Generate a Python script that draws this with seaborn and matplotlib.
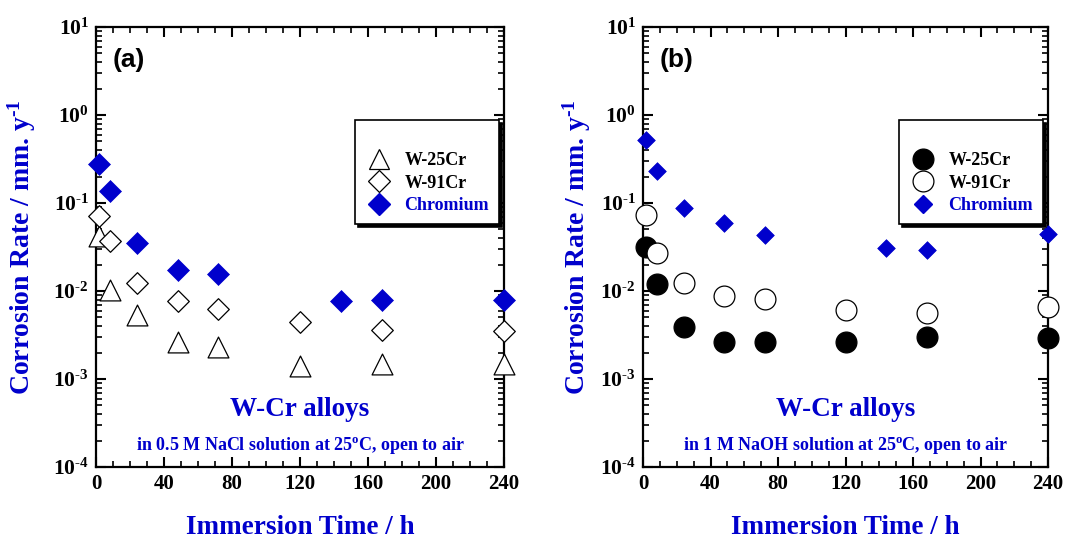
import matplotlib
matplotlib.use("Agg")
import matplotlib.pyplot as plt
from matplotlib.lines import Line2D
from matplotlib.ticker import LogLocator, FuncFormatter, MultipleLocator, NullFormatter
import seaborn as sns
import pandas as pd
import numpy as np

# ---- data ----
times_a_cr = [2, 8, 24, 48, 72, 144, 168, 240]
chromium_a = [0.275, 0.137, 0.0348, 0.0173, 0.0155, 0.0077, 0.0080, 0.0080]
times_a_alloy = [2, 8, 24, 48, 72, 120, 168, 240]
w91cr_a = [0.072, 0.0373, 0.0124, 0.0077, 0.0062, 0.0044, 0.0036, 0.0035]
w25cr_a = [0.042, 0.0102, 0.0053, 0.0026, 0.0023, 0.0014, 0.0015, 0.0015]

times_b_cr = [2, 8, 24, 48, 72, 144, 168, 240]
chromium_b = [0.52, 0.23, 0.087, 0.059, 0.043, 0.031, 0.029, 0.045]
times_b_alloy = [2, 8, 24, 48, 72, 120, 168, 240]
w91cr_b = [0.073, 0.027, 0.0123, 0.0087, 0.0081, 0.0061, 0.0056, 0.0065]
w25cr_b = [0.032, 0.012, 0.0039, 0.0026, 0.0026, 0.0026, 0.0030, 0.0029]

xticks = [0, 40, 80, 120, 160, 200, 240]
series_labels = ["W-25Cr", "W-91Cr", "Chromium"]
panel_tags = ["(a)", "(b)"]
subtitles = [r"in 0.5 M NaCl solution at 25$^{\mathrm{o}}$C, open to air",
             r"in 1 M NaOH solution at 25$^{\mathrm{o}}$C, open to air"]
ylabel = r"Corrosion Rate / mm. y$^{\text{-1}}$"
xlabel = "Immersion Time / h"
title_text = "W-Cr alloys"

BLUE = "#0000CC"

sns.set_style("ticks")
plt.rcParams["font.family"] = ["Liberation Serif", "DejaVu Serif"]
plt.rcParams["font.weight"] = "bold"
plt.rcParams["mathtext.fontset"] = "custom"
plt.rcParams["mathtext.rm"] = "Liberation Serif:bold"
plt.rcParams["mathtext.it"] = "Liberation Serif:bold"
plt.rcParams["mathtext.bf"] = "Liberation Serif:bold"
plt.rcParams["axes.linewidth"] = 1.6
plt.rcParams["text.color"] = "black"

W, H = 1066, 542
fig = plt.figure(figsize=(W / 100, H / 100), dpi=100)
ax_a = fig.add_axes([96 / W, 1 - 467 / H, 408 / W, 440 / H])
ax_b = fig.add_axes([643 / W, 1 - 467 / H, 405 / W, 440 / H])


def df(t, v):
    return pd.DataFrame({"t": t, "v": v})


# panel a
sns.scatterplot(data=df(times_a_alloy, w25cr_a), x="t", y="v", ax=ax_a, marker="^",
                s=225, facecolor="white", edgecolor="black", linewidth=0.9, clip_on=False, zorder=3)
sns.scatterplot(data=df(times_a_alloy, w91cr_a), x="t", y="v", ax=ax_a, marker="D",
                s=121, facecolor="white", edgecolor="black", linewidth=0.9, clip_on=False, zorder=4)
sns.scatterplot(data=df(times_a_cr, chromium_a), x="t", y="v", ax=ax_a, marker="D",
                s=125, color=BLUE, edgecolor=BLUE, linewidth=0.5, clip_on=False, zorder=5)

# panel b
sns.scatterplot(data=df(times_b_alloy, w25cr_b), x="t", y="v", ax=ax_b, marker="o",
                s=225, facecolor="black", edgecolor="black", linewidth=0.9, clip_on=False, zorder=3)
sns.scatterplot(data=df(times_b_alloy, w91cr_b), x="t", y="v", ax=ax_b, marker="o",
                s=225, facecolor="white", edgecolor="black", linewidth=0.9, clip_on=False, zorder=4)
sns.scatterplot(data=df(times_b_cr, chromium_b), x="t", y="v", ax=ax_b, marker="D",
                s=81, color=BLUE, edgecolor=BLUE, linewidth=0.5, clip_on=False, zorder=5)


def fmt(y, pos):
    e = int(round(np.log10(y)))
    return r"$\mathrm{10^{\text{%d}}}$" % e


handles_a = [
    Line2D([], [], ls="none", marker="^", ms=15, mfc="white", mec="black", mew=0.9),
    Line2D([], [], ls="none", marker="D", ms=11, mfc="white", mec="black", mew=0.9),
    Line2D([], [], ls="none", marker="D", ms=11, mfc=BLUE, mec=BLUE),
]
handles_b = [
    Line2D([], [], ls="none", marker="o", ms=15, mfc="black", mec="black", mew=0.9),
    Line2D([], [], ls="none", marker="o", ms=15, mfc="white", mec="black", mew=0.9),
    Line2D([], [], ls="none", marker="D", ms=9, mfc=BLUE, mec=BLUE),
]

for ax, tag, sub, handles in [(ax_a, panel_tags[0], subtitles[0], handles_a),
                              (ax_b, panel_tags[1], subtitles[1], handles_b)]:
    ax.set_yscale("log")
    ax.set_xlim(0, 240)
    ax.set_ylim(1e-4, 10)
    ax.set_xticks(xticks)
    ax.set_xticklabels([str(x) for x in xticks])
    ax.xaxis.set_minor_locator(MultipleLocator(10))
    ax.yaxis.set_major_locator(LogLocator(base=10, numticks=10))
    ax.yaxis.set_minor_locator(LogLocator(base=10, subs=np.arange(2, 10), numticks=20))
    ax.yaxis.set_major_formatter(FuncFormatter(fmt))
    ax.yaxis.set_minor_formatter(NullFormatter())
    ax.tick_params(which="both", direction="in", top=True, right=True, color="black",
                   labelcolor="black")
    ax.tick_params(which="major", length=7, width=1.5)
    ax.tick_params(which="minor", length=4, width=1.2)
    ax.tick_params(axis="x", which="major", labelsize=15, pad=5)
    ax.tick_params(axis="y", which="major", labelsize=15.5, pad=5)
    for lab in ax.get_xticklabels() + ax.get_yticklabels():
        lab.set_fontweight("bold")
    ax.set_xlabel("")
    ax.set_ylabel("")
    for sp in ax.spines.values():
        sp.set_visible(True)
        sp.set_color("black")
        sp.set_linewidth(1.6)

    ax.text(0.04, 0.925, tag, transform=ax.transAxes, family=["Liberation Sans"],
            fontsize=19, fontweight="bold", ha="left", va="center", color="black")
    ax.text(0.5, 0.13, title_text, transform=ax.transAxes, fontsize=19.5,
            fontweight="bold", ha="center", va="center", color=BLUE)
    ax.text(0.5, 0.05, sub, transform=ax.transAxes, fontsize=13,
            fontweight="bold", ha="center", va="center", color=BLUE)

    leg = ax.legend(handles, series_labels, loc="upper right",
                    bbox_to_anchor=(0.988, 0.789), title=" ", title_fontsize=13,
                    prop={"family": "Liberation Serif", "weight": "bold", "size": 13},
                    frameon=True, fancybox=False, edgecolor="black", framealpha=1,
                    shadow={"color": "black", "alpha": 1}, borderpad=0.55,
                    labelspacing=0.3, handletextpad=0.6, handlelength=1.6,
                    borderaxespad=0)
    leg.get_frame().set_linewidth(1.2)
    texts = leg.get_texts()
    texts[2].set_color(BLUE)
    leg.set_zorder(10)

# axis labels
for ax in (ax_a, ax_b):
    pos = ax.get_position()
    fig.text(pos.x0 + pos.width / 2, 1 - 528 / H, xlabel, fontsize=19.5, fontweight="bold",
             color=BLUE, ha="center", va="center")
fig.text(22 / W, ax_a.get_position().y0 + ax_a.get_position().height / 2, ylabel,
         rotation=90, fontsize=20, fontweight="bold", color=BLUE, ha="center", va="center")
fig.text(577 / W, ax_b.get_position().y0 + ax_b.get_position().height / 2, ylabel,
         rotation=90, fontsize=20, fontweight="bold", color=BLUE, ha="center", va="center")

fig.savefig("out.png", dpi=100, facecolor="white")
